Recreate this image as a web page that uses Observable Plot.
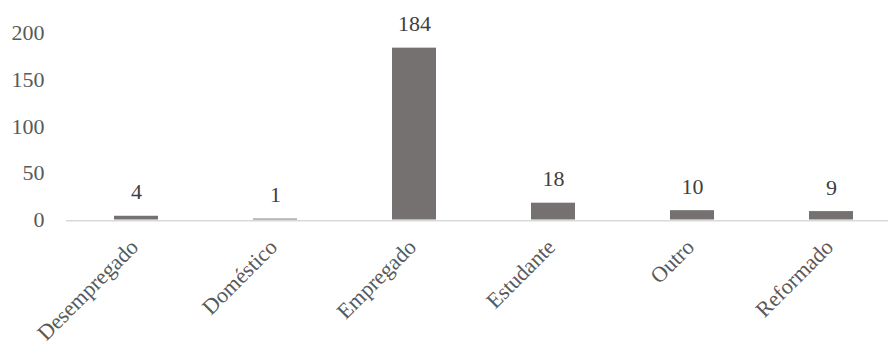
<!DOCTYPE html>
<html>
<head>
<meta charset="utf-8">
<script src="https://cdn.jsdelivr.net/npm/d3@7"></script>
<script src="https://cdn.jsdelivr.net/npm/@observablehq/plot@0.6"></script>
<style>
  html, body { margin: 0; padding: 0; background: #fff; overflow: hidden; }
  svg { display: block; }
</style>
</head>
<body>
<div id="chart"></div>
<script>
const categories = ["Desempregado", "Doméstico", "Empregado", "Estudante", "Outro", "Reformado"];
const values = [4, 1, 184, 18, 10, 9];
const yTicks = [0, 50, 100, 150, 200];

const data = categories.map((c, i) => ({ category: c, value: values[i] }));

const chart = Plot.plot({
  width: 888,
  height: 344,
  marginLeft: 66,
  marginRight: 0,
  marginTop: 33,
  marginBottom: 124,
  style: { fontFamily: "'Liberation Serif', 'Times New Roman', serif", fontSize: "22px", color: "#595959", background: "#fff", overflow: "visible" },
  x: { domain: categories, range: [66, 900], paddingInner: 0.686, paddingOuter: 0.343, label: null },
  y: { domain: [0, 200], range: [219.5, 32.7], label: null },
  marks: [
    Plot.barY(data, { x: "category", y: "value", fill: "#767171" }),
    Plot.ruleY([0], { stroke: "#d9d9d9", strokeWidth: 1.5, dy: 0.75 }),
    Plot.text(data, { x: "category", y: "value", text: d => String(d.value), lineAnchor: "bottom", dy: -17, fill: "#404040", fontSize: 22 }),
    Plot.axisY({ ticks: yTicks, tickSize: 0, tickPadding: 22, label: null, fontSize: 22, fill: "#595959" }),
    Plot.axisX({ tickSize: 0, tickRotate: -45, tickPadding: 18, dx: -2, dy: 5, label: null, fontSize: 22, fill: "#595959" })
  ]
});
document.getElementById("chart").appendChild(chart);
</script>
</body>
</html>
